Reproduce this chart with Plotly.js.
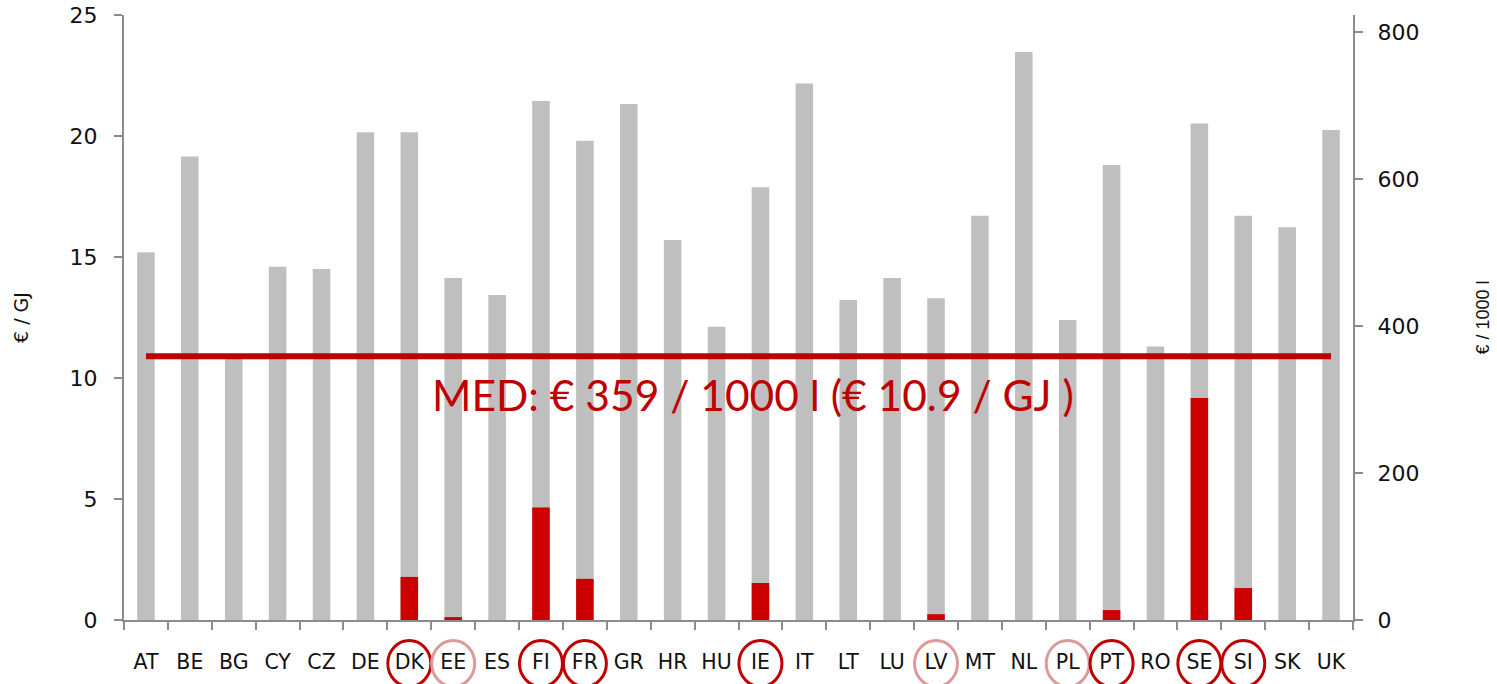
<!DOCTYPE html>
<html>
<head>
<meta charset="utf-8">
<script src="https://cdn.plot.ly/plotly-3.0.1.min.js"></script>
<style>html,body{margin:0;padding:0;background:#fff;}#chart{width:1497px;height:684px;}</style>
</head>
<body>
<div id="chart"></div>
<script>
const countries = ["AT","BE","BG","CY","CZ","DE","DK","EE","ES","FI","FR","GR","HR","HU","IE","IT","LT","LU","LV","MT","NL","PL","PT","RO","SE","SI","SK","UK"];
const totalGJ = [15.2,19.15,10.9,14.6,14.5,20.15,20.15,14.13,13.43,21.45,19.8,21.32,15.7,12.12,17.88,22.17,13.22,14.13,13.3,16.7,23.47,12.4,18.8,11.3,20.52,16.7,16.23,20.25];
const carbonGJ = [0,0,0,0,0,0,1.78,0.12,0,4.65,1.7,0,0,0,1.53,0,0,0,0.24,0,0,0,0.41,0,9.17,1.32,0,0];
const medianGJ = 10.9;
const medianPerKL = 359;
const strongCircle = ["DK","FI","FR","IE","PT","SE","SI"];
const lightCircle = ["EE","LV","PL"];

const axisColor = "#8c8c8c";
const xTickFont = {family: "DejaVu Sans", size: 20.5, color: "#111"};
const yTickFont = {family: "DejaVu Sans", size: 22, color: "#111"};

const traces = [
  {type: "bar", x: countries, y: totalGJ, marker: {color: "#bfbfbf"}, width: 0.4, hoverinfo: "x+y"},
  {type: "bar", x: countries, y: carbonGJ, marker: {color: "#cc0000"}, width: 0.4, hoverinfo: "x+y"},
  {type: "scatter", mode: "lines", x: countries, y: countries.map(() => medianGJ),
   line: {color: "#c00000", width: 6}, hoverinfo: "skip"},
  {type: "scatter", mode: "markers", x: [countries[0]], y: [0], yaxis: "y2", marker: {opacity: 0}, hoverinfo: "skip"}
];

const shapes = [];
countries.forEach((c, i) => {
  let col = null;
  if (strongCircle.includes(c)) col = "#c00000";
  if (lightCircle.includes(c)) col = "#dc9a9a";
  if (col) shapes.push({type: "circle", xref: "x", yref: "paper", x0: i - 0.49, x1: i + 0.49,
    y0: -0.11, y1: -0.034, line: {color: col, width: 3}});
});

const layout = {
  width: 1497, height: 684,
  margin: {l: 124, r: 144, t: 15, b: 64},
  paper_bgcolor: "#fff", plot_bgcolor: "#fff",
  showlegend: false, barmode: "overlay",
  xaxis: {type: "category", showline: true, linecolor: axisColor, linewidth: 2,
    ticks: "outside", tickson: "boundaries", ticklen: 8, tickcolor: axisColor, tickwidth: 2,
    tickfont: xTickFont, ticklabelstandoff: 22, showgrid: false, zeroline: false,
    range: [-0.5, countries.length - 0.5]},
  yaxis: {range: [0, 25], dtick: 5, showline: true, linecolor: axisColor, linewidth: 2,
    ticks: "outside", ticklen: 8, tickcolor: axisColor, tickwidth: 2, tickfont: yTickFont,
    ticklabelstandoff: 12, showgrid: false, zeroline: false,
    title: {text: "€ / GJ", font: {family: "DejaVu Sans", size: 19, color: "#111"}, standoff: 36}},
  yaxis2: {overlaying: "y", side: "right", range: [0, 25 * medianPerKL / medianGJ], dtick: 200,
    showline: true, linecolor: axisColor, linewidth: 2, ticks: "outside", ticklen: 8,
    tickcolor: axisColor, tickwidth: 2, tickfont: yTickFont, ticklabelstandoff: 10,
    showgrid: false, zeroline: false,
    title: {text: "€ / 1000 l", font: {family: "Liberation Sans Narrow, Liberation Sans", size: 18, color: "#111"}, standoff: 58}},
  shapes: shapes,
  annotations: [{xref: "paper", yref: "y", x: 0.512, y: 9.3, showarrow: false,
    text: "MED: € " + medianPerKL + " / 1000 l (€ " + medianGJ + " / GJ )",
    font: {family: "Lato", size: 42.5, color: "#c00000"}}]
};

Plotly.newPlot("chart", traces, layout, {displayModeBar: false});
</script>
</body>
</html>
